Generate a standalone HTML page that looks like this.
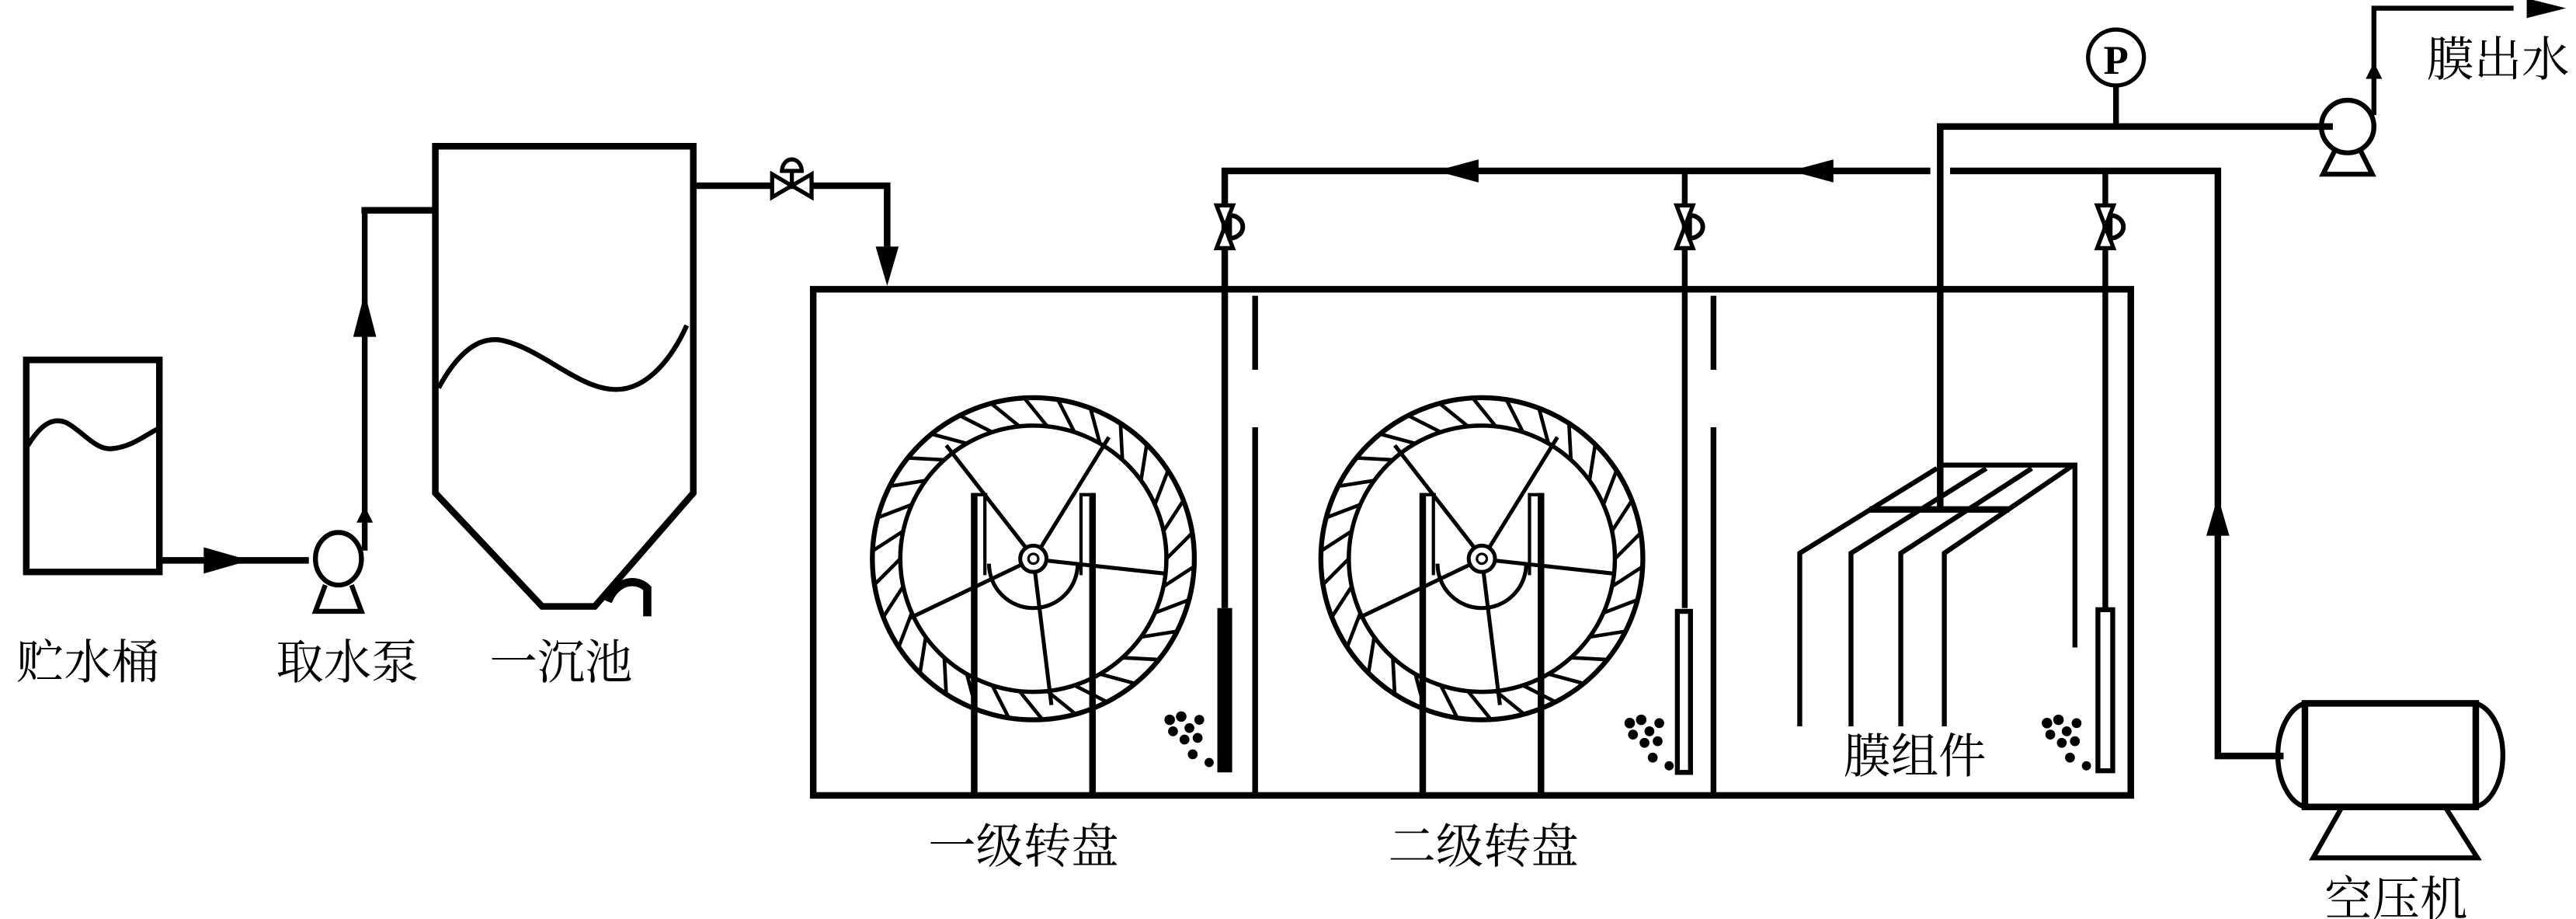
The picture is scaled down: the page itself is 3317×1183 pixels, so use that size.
<!DOCTYPE html>
<html><head><meta charset="utf-8"><style>
html,body{margin:0;padding:0;background:#fff;}
svg{display:block;}
text{font-family:"Liberation Serif","Noto Serif CJK SC",serif;font-size:29px;fill:#000;}
</style></head><body>
<svg width="3317" height="1183" viewBox="0 0 1568 559.2" preserveAspectRatio="none" xmlns="http://www.w3.org/2000/svg">
<defs>
<g id="hatch" stroke="#000" stroke-width="2.2">
<line x1="81" y1="0" x2="97" y2="-16" transform="rotate(0)"/>
<line x1="81" y1="0" x2="97" y2="-16" transform="rotate(12)"/>
<line x1="81" y1="0" x2="97" y2="-16" transform="rotate(24)"/>
<line x1="81" y1="0" x2="97" y2="-16" transform="rotate(36)"/>
<line x1="81" y1="0" x2="97" y2="-16" transform="rotate(48)"/>
<line x1="81" y1="0" x2="97" y2="-16" transform="rotate(60)"/>
<line x1="81" y1="0" x2="97" y2="-16" transform="rotate(72)"/>
<line x1="81" y1="0" x2="97" y2="-16" transform="rotate(84)"/>
<line x1="81" y1="0" x2="97" y2="-16" transform="rotate(96)"/>
<line x1="81" y1="0" x2="97" y2="-16" transform="rotate(108)"/>
<line x1="81" y1="0" x2="97" y2="-16" transform="rotate(120)"/>
<line x1="81" y1="0" x2="97" y2="-16" transform="rotate(132)"/>
<line x1="81" y1="0" x2="97" y2="-16" transform="rotate(144)"/>
<line x1="81" y1="0" x2="97" y2="-16" transform="rotate(156)"/>
<line x1="81" y1="0" x2="97" y2="-16" transform="rotate(168)"/>
<line x1="81" y1="0" x2="97" y2="-16" transform="rotate(180)"/>
<line x1="81" y1="0" x2="97" y2="-16" transform="rotate(192)"/>
<line x1="81" y1="0" x2="97" y2="-16" transform="rotate(204)"/>
<line x1="81" y1="0" x2="97" y2="-16" transform="rotate(216)"/>
<line x1="81" y1="0" x2="97" y2="-16" transform="rotate(228)"/>
<line x1="81" y1="0" x2="97" y2="-16" transform="rotate(240)"/>
<line x1="81" y1="0" x2="97" y2="-16" transform="rotate(252)"/>
<line x1="81" y1="0" x2="97" y2="-16" transform="rotate(264)"/>
<line x1="81" y1="0" x2="97" y2="-16" transform="rotate(276)"/>
<line x1="81" y1="0" x2="97" y2="-16" transform="rotate(288)"/>
<line x1="81" y1="0" x2="97" y2="-16" transform="rotate(300)"/>
<line x1="81" y1="0" x2="97" y2="-16" transform="rotate(312)"/>
<line x1="81" y1="0" x2="97" y2="-16" transform="rotate(324)"/>
<line x1="81" y1="0" x2="97" y2="-16" transform="rotate(336)"/>
<line x1="81" y1="0" x2="97" y2="-16" transform="rotate(348)"/>
</g>
<g id="wheel" fill="none" stroke="#000">
<circle cx="0" cy="0" r="98" stroke-width="3"/>
<circle cx="0" cy="0" r="81" stroke-width="2.6"/>
<use href="#hatch"/>
<circle cx="0" cy="0" r="8" stroke-width="2.4"/>
<circle cx="0" cy="0" r="3" stroke-width="1.5"/>
<g stroke-width="2.4">
<line x1="-4" y1="-6" x2="-53" y2="-69"/>
<line x1="4" y1="-6" x2="46" y2="-74"/>
<line x1="-6" y1="3" x2="-75" y2="36"/>
<line x1="7" y1="1" x2="80" y2="9"/>
<line x1="1" y1="8" x2="11" y2="89"/>
<path d="M-27,3 A27,27 0 0 0 27,3"/>
</g>
<g stroke-width="2">
<line x1="-29.5" y1="-38" x2="-29.5" y2="10"/>
<line x1="29" y1="-38" x2="29" y2="10"/>
<line x1="-37.5" y1="-39" x2="-28" y2="-39"/>
<line x1="28" y1="-39" x2="37.5" y2="-39"/>
</g>
<g stroke-width="4">
<line x1="-36" y1="-40" x2="-36" y2="145"/>
<line x1="36" y1="-40" x2="36" y2="145"/>
</g>
</g>
<g id="vvalve" stroke="#000" stroke-width="2.5" fill="#fff">
<path d="M-5,-13 L5,-13 L-5,13 L5,13 Z"/>
<path d="M3,-7 A8,7 0 0 1 3,7 Z" stroke-width="2.8"/>
</g>
<g id="bubbles" fill="#000" stroke="none">
<circle cx="0" cy="0" r="3.2"/><circle cx="7" cy="-2" r="3.2"/><circle cx="2" cy="7" r="3"/>
<circle cx="12" cy="5" r="3"/><circle cx="18" cy="0" r="3"/><circle cx="9" cy="12" r="3"/>
<circle cx="17" cy="11" r="3"/><circle cx="14" cy="21" r="3"/><circle cx="24" cy="26" r="2.8"/>
</g>
</defs>

<g fill="none" stroke="#000" stroke-width="4" stroke-linejoin="miter">
<rect x="16" y="219" width="81" height="129"/>
<path d="M17,271 C25,258 32,254 40,257 C50,262 58,274 68,273 C80,272 88,265 96,261" stroke-width="3"/>
<line x1="97" y1="341" x2="188" y2="341"/>
<ellipse cx="206" cy="340" rx="14" ry="16" stroke-width="3"/>
<path d="M198,356 L192,372 L220,372 L214,356" stroke-width="3"/>
<line x1="222" y1="335" x2="222" y2="128" stroke-width="3.5"/>
<line x1="220" y1="128" x2="265" y2="128"/>
<path d="M265,300 L265,89 L422,89 L422,300 L362,369 L330,369 Z" />
<path d="M267,236 C280,212 293,205 305,207 C330,212 352,237 375,237 C395,237 410,216 418,198" stroke-width="3"/>
<path d="M370,366 C376,352 388,352 394,358 L394,375" stroke-width="5"/>
<polyline points="422,113 540,113 540,150"/>
<rect x="495" y="176" width="802" height="308"/>
<line x1="764" y1="180" x2="764" y2="225" stroke-width="3.5"/>
<line x1="764" y1="260" x2="764" y2="484" stroke-width="3.5"/>
<line x1="1043" y1="180" x2="1043" y2="225" stroke-width="3.5"/>
<line x1="1043" y1="260" x2="1043" y2="484" stroke-width="3.5"/>
<polyline points="1175,104 745.5,104 745.5,370"/>
<line x1="1025.5" y1="104" x2="1025.5" y2="370" stroke-width="3.5"/>
<polyline points="1187,104 1350,104 1350,460 1390,460"/>
<line x1="1281.5" y1="104" x2="1281.5" y2="370" stroke-width="3.5"/>
<polyline points="1181,310 1181,77 1420,77"/>
<line x1="1288" y1="52" x2="1288" y2="77" stroke-width="3.5"/>
<polyline points="1445,70 1445,5 1530,5" stroke-width="3"/>
<rect x="1403" y="428" width="104" height="63"/>
<path d="M1403,428 A20,32 0 0 0 1403,491" stroke-width="3"/>
<path d="M1507,428 A20,32 0 0 1 1507,491" stroke-width="3"/>
<path d="M1425,492 L1408,522 L1508,522 L1489,492" stroke-width="3"/>
<circle cx="1429" cy="77" r="16" stroke-width="3"/>
<path d="M1421,92 L1414,106 L1444,106 L1437,92" stroke-width="3"/>
<g stroke-width="3">
<polyline points="1095.5,442 1095.5,336.6 1179,285"/>
<polyline points="1126.7,442 1126.7,336.6 1209,285"/>
<polyline points="1157,442 1157,336.6 1236.7,285"/>
<polyline points="1183.5,442 1183.5,336.6 1262,283"/>
<polyline points="1179,283 1263,283 1263,394"/>
</g>
<line x1="1138" y1="310" x2="1223" y2="310" stroke-width="4"/>
</g>

<g fill="#fff" stroke="#000" stroke-width="3">
<rect x="1021" y="372" width="8" height="98"/>
<rect x="1277" y="371" width="9" height="98"/>
</g>
<rect x="741" y="370" width="9" height="100" fill="#000"/>

<use href="#wheel" x="629" y="340"/>
<use href="#wheel" x="902" y="340"/>

<use href="#vvalve" x="745.5" y="138"/>
<use href="#vvalve" x="1025.5" y="138"/>
<use href="#vvalve" x="1281.5" y="138"/>
<g stroke="#000" stroke-width="2.5" fill="#fff">
<path d="M470,106 L470,120 L494,106 L494,120 Z"/>
<path d="M476,104 A6,7 0 0 1 488,104 Z"/>
<line x1="482" y1="104" x2="482" y2="113"/>
</g>

<circle cx="1288" cy="35" r="17" fill="#fff" stroke="#000" stroke-width="2.5"/>
<text x="1288" y="45" text-anchor="middle" style="font-size:25px;font-weight:bold">P</text>

<g fill="#000">
<polygon points="124,333 124,349 152,341"/>
<polygon points="215,205 229,205 222,178"/>
<polygon points="533,150 547,150 540,174"/>
<polygon points="900,97 900,111 874,104"/>
<polygon points="1116,97 1116,111 1090,104"/>
<polygon points="1343,326 1357,326 1350,302"/>
<polygon points="1538,-1 1538,11 1562,5"/>
<polygon points="1440,48 1450,48 1445,38"/>
<polygon points="217,318 227,318 222,308"/>
</g>

<use href="#bubbles" x="712" y="438"/>
<use href="#bubbles" x="992" y="440"/>
<use href="#bubbles" x="1246" y="440"/>

<text x="10" y="413">贮水桶</text>
<text x="168" y="413">取水泵</text>
<text x="298" y="413">一沉池</text>
<text x="565" y="525">一级转盘</text>
<text x="845" y="525">二级转盘</text>
<text x="1122" y="470">膜组件</text>
<text x="1415" y="557">空压机</text>
<text x="1477" y="46">膜出水</text>
</svg>
</body></html>
